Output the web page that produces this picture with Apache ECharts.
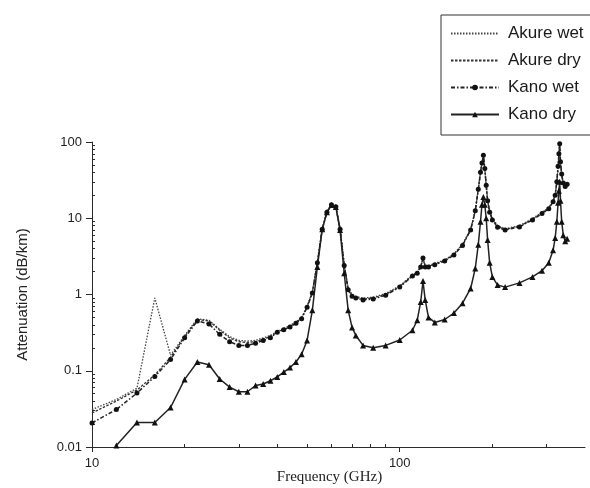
<!DOCTYPE html>
<html>
<head>
<meta charset="utf-8">
<script src="https://cdn.jsdelivr.net/npm/echarts@6/dist/echarts.min.js"></script>
<style>
html,body{margin:0;padding:0;background:#fff;}
#chart{width:590px;height:488px;}
</style>
</head>
<body>
<div id="chart"></div>
<script>
// Frequency (GHz)
var freqs = [10,12,14,16,18,20,22,24,26,28,30,32,34,36,38,40,42,44,46,48,50,52,54,56,58,60,62,64,66,68,70,72,76,82,90,100,110,114,117,119,121,124,130,140,150,160,170,176,180,183,185,187,189,191,193,196,200,208,220,245,270,290,305,315,320,324,327,329,331,333,336,340,345,350];

var akureWet = [0.031,0.042,0.059,0.9,0.16,0.29,0.48,0.46,0.35,0.28,0.25,0.245,0.25,0.27,0.29,0.33,0.36,0.39,0.44,0.5,0.7,1.08,2.7,7.3,12,15,14.3,7.4,2.5,1.2,1.0,0.94,0.9,0.92,1.03,1.3,1.8,1.95,2.35,3.0,2.4,2.4,2.55,2.85,3.4,4.6,7.2,12.5,24,40,53,66,45,27,17.5,12.5,10,8,7.3,8.0,9.9,12,13.8,17,20.5,30,48,68,90,52,36,28,25.5,27.5];

var akureDry = [0.028,0.04,0.056,0.088,0.15,0.28,0.47,0.45,0.34,0.27,0.24,0.235,0.24,0.26,0.28,0.32,0.35,0.38,0.43,0.49,0.69,1.06,2.65,7.2,12,15,14.2,7.3,2.45,1.18,0.97,0.92,0.87,0.9,1.0,1.27,1.78,1.92,2.3,2.95,2.35,2.35,2.5,2.8,3.35,4.5,7.1,12.5,24,40,53,66,45,27,17,12.2,9.8,7.8,7.15,7.85,9.7,11.7,13.5,16.8,20,30,48,69,92,53,37,28.5,25.5,27.5];

var kanoWet = [0.0207,0.031,0.051,0.084,0.14,0.27,0.45,0.41,0.30,0.24,0.215,0.215,0.23,0.25,0.27,0.32,0.345,0.375,0.42,0.48,0.68,1.05,2.6,7.2,12,15,14.2,7.2,2.4,1.15,0.95,0.9,0.85,0.87,0.98,1.25,1.75,1.9,2.3,3.0,2.3,2.3,2.45,2.75,3.3,4.4,7.0,12.5,24,40,53,67,45,27,17,12,9.5,7.6,7.0,7.7,9.5,11.5,13.3,16.5,20,30,48,70,95,55,38,29,26,28];

var kanoDry = [null,0.0105,0.021,0.021,0.033,0.077,0.13,0.12,0.078,0.061,0.053,0.053,0.064,0.067,0.074,0.083,0.096,0.11,0.13,0.165,0.25,0.62,2.3,7.2,12,14.9,14,7.0,1.9,0.62,0.37,0.29,0.215,0.2,0.215,0.253,0.34,0.46,0.8,1.5,0.85,0.5,0.43,0.47,0.57,0.77,1.2,2.2,4.5,9,15,19,15,10,5.2,2.6,1.7,1.33,1.25,1.42,1.7,2.05,2.6,3.8,5.5,9,16,23,30,17,9,6,5.0,5.4];

var seriesNames = ['Akure wet','Akure dry','Kano wet','Kano dry'];
var xTickLabels = [10, 100];
var yTickLabels = [0.01, 0.1, 1, 10, 100];

function pairs(vals){
  var out = [];
  for (var i = 0; i < freqs.length; i++) out.push([freqs[i], vals[i]]);
  return out;
}

var chart = echarts.init(document.getElementById('chart'), null, {renderer:'canvas'});
var axisColor = '#2a2a2a';
var font = 'Liberation Sans, Arial, sans-serif';

var option = {
  animation: false,
  backgroundColor: '#ffffff',
  grid: {left: 92, right: 5, top: 142, bottom: 41, containLabel: false, outerBoundsMode: 'none'},
  legend: {
    data: [
      {name: seriesNames[0], itemStyle: {opacity: 0}},
      {name: seriesNames[1], itemStyle: {opacity: 0}},
      {name: seriesNames[2]},
      {name: seriesNames[3]}
    ],
    orient: 'vertical',
    left: 441, top: 15,
    itemWidth: 48, itemHeight: 7, itemGap: 10,
    padding: [10, 60, 12, 9],
    borderColor: '#333', borderWidth: 1,
    textStyle: {fontFamily: font, fontSize: 17, color: '#1a1a1a', letterSpacing: -0.4, padding: [0, 0, 0, 4]}
  },
  xAxis: [{
    type: 'log', logBase: 10, min: 10, max: 400,
    position: 'bottom',
    name: 'Frequency (GHz)', nameLocation: 'middle', nameGap: 23, nameMoveOverlap: false,
    nameTextStyle: {fontFamily: 'Liberation Serif, serif', fontSize: 15, color: '#222', padding: [0, 18, 0, 0]},
    axisLine: {show: true, lineStyle: {color: axisColor, width: 1}},
    axisTick: {show: true, length: 5, customValues: xTickLabels, lineStyle: {color: axisColor}},
    axisLabel: {customValues: xTickLabels, fontFamily: font, fontSize: 13, color: '#222', margin: 10},
    splitLine: {show: false},
    minorTick: {show: false}
  }, {
    type: 'log', logBase: 10, min: 10, max: 400,
    position: 'bottom',
    axisLine: {show: false},
    axisTick: {show: false, inside: true},
    axisLabel: {show: false},
    splitLine: {show: false},
    minorTick: {show: true, splitNumber: 9, length: 3, lineStyle: {color: axisColor}}
  }],
  yAxis: [{
    type: 'log', logBase: 10, min: 0.01, max: 100,
    position: 'left',
    name: 'Attenuation (dB/km)', nameLocation: 'middle', nameGap: 62, nameMoveOverlap: false,
    nameTextStyle: {fontFamily: font, fontSize: 15, color: '#222'},
    axisLine: {show: true, lineStyle: {color: axisColor, width: 1}},
    axisTick: {show: true, length: 6, customValues: yTickLabels, lineStyle: {color: axisColor}},
    axisLabel: {customValues: yTickLabels, fontFamily: font, fontSize: 13, color: '#222', margin: 10,
      formatter: function(v){ return String(v); }},
    splitLine: {show: false}
  }, {
    type: 'log', logBase: 10, min: 0.01, max: 100,
    position: 'left',
    axisLine: {show: false},
    axisTick: {show: false, inside: true},
    axisLabel: {show: false},
    splitLine: {show: false},
    minorTick: {show: true, splitNumber: 9, length: 3, lineStyle: {color: axisColor}}
  }],
  series: [
    {name: 'Akure wet', type: 'line', xAxisIndex: 0, yAxisIndex: 0, data: pairs(akureWet),
      symbol: 'none', lineStyle: {color: '#444', width: 1.3, type: [1.5, 1.5]}, itemStyle: {color: '#444'}},
    {name: 'Akure dry', type: 'line', xAxisIndex: 0, yAxisIndex: 0, data: pairs(akureDry),
      symbol: 'none', lineStyle: {color: '#333', width: 1.3, type: [2.5, 1.5]}, itemStyle: {color: '#333'}},
    {name: 'Kano wet', type: 'line', xAxisIndex: 0, yAxisIndex: 0, data: pairs(kanoWet),
      symbol: 'circle', symbolSize: 5, showSymbol: true,
      lineStyle: {color: '#222', width: 1.5, type: [4, 2, 1.5, 2]}, itemStyle: {color: '#111'}},
    {name: 'Kano dry', type: 'line', xAxisIndex: 0, yAxisIndex: 0, data: pairs(kanoDry),
      symbol: 'triangle', symbolSize: 6, showSymbol: true, connectNulls: false,
      lineStyle: {color: '#222', width: 1.5}, itemStyle: {color: '#111'}}
  ]
};
chart.setOption(option);
</script>
</body>
</html>
